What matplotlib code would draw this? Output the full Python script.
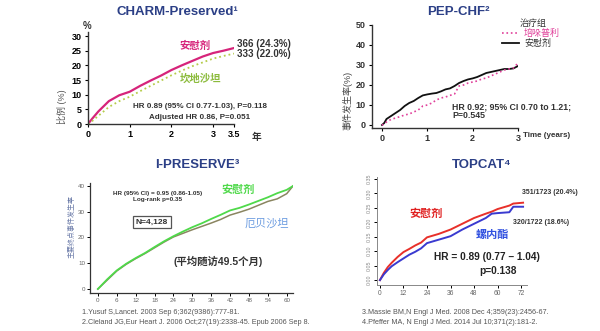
import numpy as np
import matplotlib.pyplot as plt
import matplotlib.patches as patches

plt.rcParams['font.family'] = ['Liberation Sans', 'Noto Sans CJK SC', 'DejaVu Sans']

W, H = 600, 331

# ---- CHARM-Preserved (years, %)
charm_t = [0, 0.1, 0.25, 0.5, 0.75, 1.0, 1.25, 1.5, 1.75, 2.0, 2.25, 2.5, 2.75, 3.0, 3.25, 3.5]
charm_placebo = [0, 1.8, 4.3, 7.8, 9.8, 11.0, 13.0, 14.8, 16.5, 18.4, 20.0, 21.5, 23.0, 24.2, 25.0, 25.9]
charm_cand = [0, 1.0, 2.8, 5.8, 7.8, 9.3, 11.2, 13.0, 14.8, 16.6, 18.2, 19.7, 21.0, 22.3, 23.2, 24.0]
charm_xticks = [0, 1, 2, 3, 3.5]
charm_yticks = [0, 5, 10, 15, 20, 25, 30]

# ---- PEP-CHF (years, %)
pep_t = [0, 0.05, 0.1, 0.2, 0.3, 0.4, 0.5, 0.6, 0.7, 0.8, 0.9, 1.0, 1.1, 1.2, 1.3, 1.4,
         1.5, 1.6, 1.7, 1.8, 1.9, 2.0, 2.1, 2.2, 2.3, 2.4, 2.5, 2.6, 2.7, 2.8, 2.9, 3.0]
pep_placebo = [0, 1, 3, 4.5, 6, 7.5, 9.5, 11, 12, 13.5, 14.8, 15.3, 15.7, 16, 16.8, 17.8,
               18.3, 19.5, 21, 22, 22.8, 23.3, 24, 25, 26, 26.5, 27, 27.5, 28, 28, 28.3, 29.5]
pep_peri = [0, 0.5, 1.5, 2.8, 3.5, 4.2, 5, 5.5, 6.5, 7.5, 9.5, 10, 11, 12.5, 13.5, 14,
            14.8, 15.5, 19.5, 20, 21, 21.5, 22, 23, 23.5, 24.5, 25.5, 26.5, 27.5, 28, 28.5, 31]
pep_xticks = [0, 1, 2, 3]
pep_yticks = [0, 10, 20, 30, 40, 50]

# ---- I-PRESERVE (months, %)
ip_t = [0, 3, 6, 9, 12, 15, 18, 21, 24, 27, 30, 33, 36, 39, 42, 45, 48, 51, 54, 57, 60, 62]
ip_placebo = [0, 3.8, 7.2, 9.8, 12, 14, 16.3, 18.5, 20.5, 22.3, 24.0, 25.5, 27.2, 28.8,
              30.5, 31.5, 32.8, 34.2, 35.6, 37.2, 38.5, 40]
ip_irb = [0, 3.5, 7.0, 9.6, 11.8, 13.8, 16, 18.2, 20.2, 21.6, 23.0, 24.3, 25.6, 27.0,
          28.7, 29.8, 31.0, 32.5, 34.0, 35.0, 37.0, 40]
ip_xticks = list(range(0, 61, 6))
ip_yticks = [0, 10, 20, 30, 40]

# ---- TOPCAT (months, proportion)
tc_t = [0, 2, 4, 6, 9, 12, 15, 18, 21, 24, 30, 36, 42, 48, 54, 57, 60, 66, 68, 73]
tc_placebo = [0, 0.025, 0.045, 0.06, 0.08, 0.097, 0.108, 0.12, 0.13, 0.148, 0.16, 0.175,
              0.195, 0.215, 0.23, 0.237, 0.246, 0.258, 0.265, 0.268]
tc_spiro = [0, 0.02, 0.035, 0.048, 0.062, 0.075, 0.088, 0.098, 0.11, 0.128, 0.14, 0.152,
            0.175, 0.195, 0.215, 0.23, 0.232, 0.235, 0.254, 0.254]
tc_xticks = list(range(0, 73, 12))
tc_yticks = [0, 0.05, 0.10, 0.15, 0.20, 0.25, 0.30, 0.35]

refs_left = ["1.Yusuf S,Lancet. 2003 Sep 6;362(9386):777-81.",
             "2.Cleland JG,Eur Heart J. 2006 Oct;27(19):2338-45. Epub 2006 Sep 8."]
refs_right = ["3.Massie BM,N Engl J Med. 2008 Dec 4;359(23):2456-67.",
              "4.Pfeffer MA, N Engl J Med. 2014 Jul 10;371(2):181-2."]

TITLE = '#2b3f86'

fig = plt.figure(figsize=(W / 100, H / 100), dpi=100)


def px_axes(left, right, top, bottom):
    return fig.add_axes([left / W, 1 - bottom / H, (right - left) / W, (bottom - top) / H])


def ptext(x, y, s, **kw):
    kw.setdefault('ha', 'center')
    kw.setdefault('va', 'center')
    fig.text(x / W, 1 - y / H, s, **kw)


def style(ax, lw=1.0, color='#333333'):
    for side in ('top', 'right'):
        ax.spines[side].set_visible(False)
    for side in ('left', 'bottom'):
        ax.spines[side].set_linewidth(lw)
        ax.spines[side].set_color(color)


# CHARM-Preserved
ax = px_axes(88, 234, 31.6, 124)
ax.plot(charm_t, charm_placebo, color='#d6247a', lw=1.6)
ax.plot(charm_t, charm_cand, color='#b5cc4a', lw=1.3, ls=':')
ax.set_xlim(0, 3.5)
ax.set_ylim(0, 31.5)
ax.set_xticks(charm_xticks, ['0', '1', '2', '3', '3.5'])
ax.set_yticks(charm_yticks)
ax.tick_params(labelsize=6.5, length=2.5, width=0.8, pad=2)
for lab in ax.get_xticklabels() + ax.get_yticklabels():
    lab.set_fontweight('bold')
style(ax)
ptext(177, 12, 'CHARM-Preserved¹', fontsize=9.5, fontweight='bold', color=TITLE)
ptext(87, 26, '%', fontsize=7, fontweight='bold', color='#333333')
ptext(257, 137, '年', fontsize=7, fontweight='bold', color='#333333')
ptext(62, 107, '比例 (%)', fontsize=6.5, rotation=90, color='#555555')
ptext(195, 46, '安慰剂', fontsize=7.5, fontweight='bold', color='#d6247a')
ptext(201, 79, '坎地沙坦', fontsize=7.5, fontweight='bold', color='#8cbb3c')
ptext(237, 44, '366 (24.3%)', ha='left', fontsize=7, fontweight='bold', color='#333333')
ptext(237, 54, '333 (22.0%)', ha='left', fontsize=7, fontweight='bold', color='#333333')
ptext(200, 107, 'HR 0.89 (95% CI 0.77-1.03), P=0.118', fontsize=5.8, fontweight='bold', color='#333333')
ptext(200, 117, 'Adjusted HR 0.86, P=0.051', fontsize=5.8, fontweight='bold', color='#333333')

# PEP-CHF
ax = px_axes(372, 518, 25, 128)
ax.plot(pep_t, pep_placebo, color='#111111', lw=1.3)
ax.plot(pep_t, pep_peri, color='#e0409a', lw=1.2, ls=':')
ax.set_xlim(-0.22, 3.0)
ax.set_ylim(-1.5, 50)
ax.set_xticks(pep_xticks)
ax.set_yticks(pep_yticks)
ax.tick_params(labelsize=6.5, length=2.5, width=0.8, pad=2, labelcolor='#333333')
for lab in ax.get_xticklabels() + ax.get_yticklabels():
    lab.set_fontweight('bold')
style(ax)
ptext(458, 12, 'PEP-CHF²', fontsize=9.5, fontweight='bold', color=TITLE)
ptext(348, 100, '事件发生率(%)', fontsize=6.5, rotation=90, color='#444444')
ptext(547, 135, 'Time (years)', fontsize=5.8, fontweight='bold', color='#333333')
ptext(520, 23, '治疗组', ha='left', fontsize=6.5, color='#333333')
fig.add_artist(plt.Line2D([502 / W, 519 / W], [1 - 33 / H] * 2, color='#e0409a', lw=1.2, ls=':'))
fig.add_artist(plt.Line2D([502 / W, 519 / W], [1 - 43 / H] * 2, color='#111111', lw=1.3))
ptext(524, 33, '培哚普利', ha='left', fontsize=6.5, color='#e0409a')
ptext(524, 43, '安慰剂', ha='left', fontsize=6.5, color='#333333')
ptext(452, 107, 'HR 0.92; 95% CI 0.70 to 1.21;', ha='left', fontsize=6.3, fontweight='bold', color='#333333')
ptext(452, 115, 'P=0.545', ha='left', fontsize=6.3, fontweight='bold', color='#333333')

# I-PRESERVE
ax = px_axes(90, 293, 183.4, 293)
ax.plot(ip_t, ip_irb, color='#8a8560', lw=1.1)
ax.plot(ip_t, ip_placebo, color='#4fd94a', lw=1.3)
ax.set_xlim(-2.5, 62)
ax.set_ylim(-1.55, 41)
ax.set_xticks(ip_xticks)
ax.set_yticks(ip_yticks)
ax.tick_params(labelsize=4.5, length=2, width=0.7, pad=1.5, labelcolor='#666666')
style(ax, lw=0.9)
ptext(197, 165, 'I-PRESERVE³', fontsize=9.5, fontweight='bold', color=TITLE)
ptext(72, 227, '主要终点事件发生率', fontsize=5, rotation=90, color='#6a7aa8')
ptext(158, 193, 'HR (95% CI) = 0.95 (0.86-1.05)', fontsize=4.6, fontweight='bold', color='#333333')
ptext(158, 199.5, 'Log-rank p=0.35', fontsize=4.6, fontweight='bold', color='#333333')
ptext(152, 222, 'N=4,128', fontsize=6, fontweight='bold', color='#333333',
      bbox=dict(boxstyle='square,pad=0.35', fc='white', ec='#555555', lw=0.9))
ptext(238, 190, '安慰剂', fontsize=8, fontweight='bold', color='#4fd94a')
ptext(267, 224, '厄贝沙坦', fontsize=8, color='#6a9be0')
ptext(218, 261, '(平均随访49.5个月)', fontsize=7.5, fontweight='bold', color='#333333')

# TOPCAT
ax = px_axes(377, 527, 177, 285)
ax.plot(tc_t, tc_placebo, color='#e8302a', lw=1.4)
ax.plot(tc_t, tc_spiro, color='#3a3ad0', lw=1.4)
ax.set_xlim(-1.5, 75)
ax.set_ylim(-0.017, 0.357)
ax.set_xticks(tc_xticks)
ax.set_yticks(tc_yticks, ['%.2f' % v for v in tc_yticks])
ax.tick_params(axis='x', labelsize=4.8, length=2, width=0.7, pad=1.5, labelcolor='#666666')
ax.tick_params(axis='y', labelsize=3.8, length=2, width=0.7, pad=1.5, labelcolor='#888888',
               labelrotation=90)
for lab in ax.get_yticklabels():
    lab.set_va('center')
style(ax, lw=0.7, color='#888888')
ptext(482, 165, 'TOPCAT⁴', fontsize=9.5, fontweight='bold', color=TITLE)
ptext(522, 193, '351/1723 (20.4%)', ha='left', fontsize=5, fontweight='bold', color='#333333')
ptext(513, 223, '320/1722 (18.6%)', ha='left', fontsize=5, fontweight='bold', color='#333333')
ptext(426, 214, '安慰剂', fontsize=8, fontweight='bold', color='#e02020')
ptext(492, 235, '螺内酯', fontsize=8, fontweight='bold', color='#3050e0')
ptext(487, 257, 'HR = 0.89 (0.77 – 1.04)', fontsize=7.3, fontweight='bold', color='#222222')
ptext(498, 271, 'p=0.138', fontsize=7.3, fontweight='bold', color='#222222')

# references
for i, r in enumerate(refs_left):
    ptext(82, 312 + 10 * i, r, ha='left', fontsize=5.2, color='#555555')
for i, r in enumerate(refs_right):
    ptext(362, 312 + 10 * i, r, ha='left', fontsize=5.2, color='#555555')

fig.savefig('out.png', dpi=100)
